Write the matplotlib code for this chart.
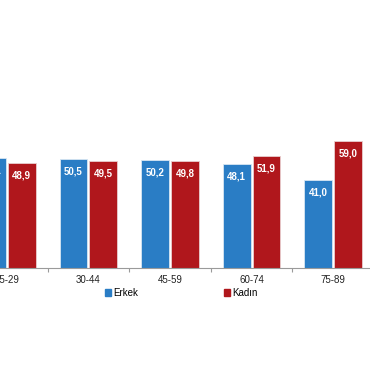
import matplotlib
matplotlib.use("Agg")
import matplotlib.pyplot as plt
from matplotlib.patches import Patch
import numpy as np

categories = ["15-29", "30-44", "45-59", "60-74", "75-89"]
erkek = [51.1, 50.5, 50.2, 48.1, 41.0]
kadin = [48.9, 49.5, 49.8, 51.9, 59.0]
series_names = ["Erkek", "Kadın"]

plt.rcParams['font.family'] = ['Liberation Sans', 'DejaVu Sans']

W, H = 370, 380
fig = plt.figure(figsize=(W / 100, H / 100), dpi=100)
fig.patch.set_facecolor("white")

# axes extends beyond left edge (chart is cropped)
left_px, right_px = -34, 374
base_px = 268
ax = fig.add_axes([left_px / W, (H - base_px) / H, (right_px - left_px) / W, 70 * 2.153 / H])

blue = "#2a7dc5"
red = "#b0171c"
x = np.arange(len(categories))
bw = 0.342
off = 0.183
b1 = ax.bar(x - off, erkek, bw, color=blue, edgecolor="#d8e6f2", linewidth=0.6)
b2 = ax.bar(x + off, kadin, bw, color=red, edgecolor="#e8cfcf", linewidth=0.6)

for bars, vals in ((b1, erkek), (b2, kadin)):
    for b, v in zip(bars, vals):
        ax.annotate(f"{v:.1f}".replace(".", ","), (b.get_x() + b.get_width() / 2, v),
                    xytext=(0, -9), textcoords="offset points", ha="center", va="center",
                    color="white", fontsize=7, fontweight="bold")

ax.set_xlim(-0.5, len(categories) - 0.5)
ax.set_ylim(0, 70)
for s in ("top", "right", "left"):
    ax.spines[s].set_visible(False)
ax.spines["bottom"].set_color("#9a9a9a")
ax.spines["bottom"].set_linewidth(0.8)
ax.set_yticks([])
ax.set_xticks(x)
ax.set_xticklabels(categories, fontsize=7, color="#222222")
ax.tick_params(axis="x", which="major", length=0, pad=5)
ax.set_xticks(x[:-1] + 0.5, minor=True)
ax.tick_params(axis="x", which="minor", length=3, color="#9a9a9a", width=0.8)

leg1 = fig.legend(handles=[Patch(color=blue)], labels=[series_names[0]],
                  loc="center left", bbox_to_anchor=(100 / W, (H - 293) / H),
                  frameon=False, fontsize=7, handlelength=0.6, handleheight=0.6,
                  handletextpad=0.3, borderpad=0)
leg2 = fig.legend(handles=[Patch(color=red)], labels=[series_names[1]],
                  loc="center left", bbox_to_anchor=(219 / W, (H - 293) / H),
                  frameon=False, fontsize=7, handlelength=0.6, handleheight=0.6,
                  handletextpad=0.3, borderpad=0)

fig.savefig("out.png", dpi=100, facecolor="white")
